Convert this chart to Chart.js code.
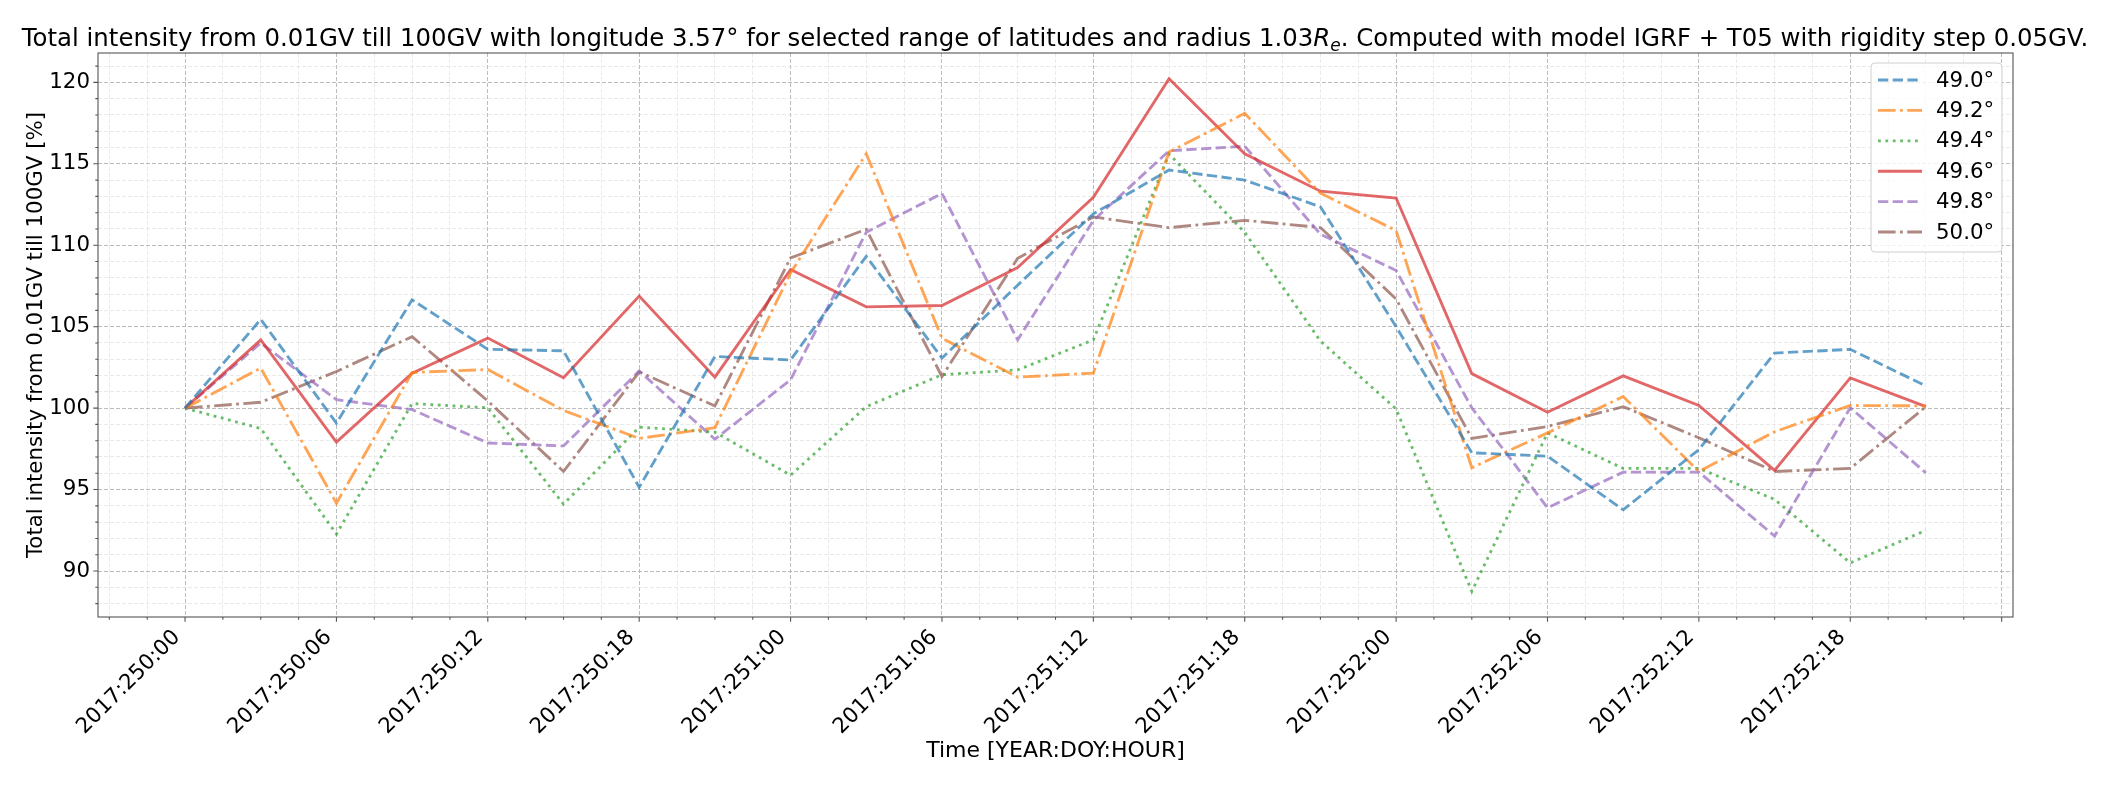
<!DOCTYPE html>
<html>
<head>
<meta charset="utf-8">
<script src="https://cdn.jsdelivr.net/npm/chart.js@4/dist/chart.umd.min.js"></script>
<style>
  html, body { margin: 0; padding: 0; background: #fff; }
  #wrap { width: 2110px; height: 785px; }
</style>
</head>
<body>
<div id="wrap"><canvas id="chart" width="2110" height="785"></canvas></div>
<script>
// Time steps (3 h) and the intensity for each latitude
const times = [
  '2017:250:00', '2017:250:03', '2017:250:06', '2017:250:09', '2017:250:12', '2017:250:15',
  '2017:250:18', '2017:250:21', '2017:251:00', '2017:251:03', '2017:251:06', '2017:251:09',
  '2017:251:12', '2017:251:15', '2017:251:18', '2017:251:21', '2017:252:00', '2017:252:03',
  '2017:252:06', '2017:252:09', '2017:252:12', '2017:252:15', '2017:252:18', '2017:252:21'
];
const latitudes = ['49.0°', '49.2°', '49.4°', '49.6°', '49.8°', '50.0°'];

const lat49_0 = [100, 105.45, 99.08, 106.65, 103.61, 103.52, 95.14, 103.17, 102.96, 109.32, 103.07, 107.55,
                 111.93, 114.62, 114.0, 112.36, 105.0, 97.26, 97.05, 93.76, 97.45, 103.38, 103.61, 101.36];
const lat49_2 = [100, 102.46, 94.16, 102.19, 102.37, 99.86, 98.14, 98.8, 108.3, 115.62, 104.29, 101.9,
                 102.15, 115.72, 118.1, 113.2, 110.9, 96.34, 98.48, 100.71, 96.11, 98.55, 100.16, 100.14];
const lat49_4 = [100, 98.75, 92.27, 100.28, 100.02, 94.11, 98.83, 98.53, 95.88, 100.09, 102.05, 102.35,
                 104.19, 115.6, 110.79, 104.12, 99.95, 88.75, 98.48, 96.3, 96.3, 94.4, 90.5, 92.5];
const lat49_6 = [100, 104.19, 97.91, 102.15, 104.3, 101.86, 106.88, 101.9, 108.51, 106.22, 106.3, 108.63,
                 112.95, 120.23, 115.62, 113.32, 112.9, 102.12, 99.75, 101.98, 100.16, 96.18, 101.86, 100.09];
const lat49_8 = [100, 104.0, 100.52, 99.91, 97.86, 97.68, 102.28, 98.09, 101.74, 110.8, 113.18, 104.19,
                 111.52, 115.8, 116.08, 110.68, 108.45, 100.02, 93.88, 96.07, 96.07, 92.15, 100.02, 96.02];
const lat50_0 = [100, 100.36, 102.25, 104.39, 100.44, 96.11, 102.23, 100.13, 109.22, 110.98, 101.94, 109.2,
                 111.74, 111.08, 111.53, 111.09, 106.7, 98.14, 98.87, 100.09, 98.18, 96.11, 96.3, 100.09];

const series = [lat49_0, lat49_2, lat49_4, lat49_6, lat49_8, lat50_0];

// tab10 colours at alpha 0.7, matplotlib dash patterns scaled for the line width
const lineColors = ['rgba(31,119,180,0.7)', 'rgba(255,127,14,0.7)', 'rgba(44,160,44,0.7)',
                    'rgba(214,39,40,0.7)', 'rgba(148,103,189,0.7)', 'rgba(140,86,75,0.7)'];
const DASHED = [10.3, 4.4], DASHDOT = [17.6, 4.4, 2.8, 4.4], DOTTED = [2.8, 4.6];
const lineDashes = [DASHED, DASHDOT, DOTTED, [], DASHED, DASHDOT];

const FONT = 'DejaVu Sans';
const FS = 21.33;

// axis limits with matplotlib's 5% margins
const allValues = [].concat(...series);
const yLo = Math.min(...allValues), yHi = Math.max(...allValues);
const yPad = (yHi - yLo) * 0.05;
const xPad = (times.length - 1) * 0.05;

const datasets = series.map((values, k) => ({
    label: latitudes[k],
    data: values.map((v, i) => ({ x: i, y: v })),
    borderColor: lineColors[k],
    borderDash: lineDashes[k],
    borderWidth: 2.85,
    pointRadius: 0,
    fill: false,
    tension: 0
}));

function buildTicks(scale, from, to, step, majorEvery) {
    const ticks = [];
    for (let v = from; v <= to + 1e-9; v += step) {
        const val = Math.round(v * 100) / 100;
        ticks.push({ value: val, major: Math.abs(val / majorEvery - Math.round(val / majorEvery)) < 1e-9 });
    }
    scale.ticks = ticks;
}

const gridColor = c => (c.tick && c.tick.major) ? 'rgba(176,176,176,0.85)' : 'rgba(220,220,220,0.6)';
const gridDash = c => c.tick ? [4, 2] : [];

// frame, tick marks, title with R_e and the inner legend
const decorations = {
    id: 'decorations',
    afterDraw(chart) {
        const { ctx, chartArea: a, scales } = chart;
        ctx.save();

        ctx.strokeStyle = '#555';
        ctx.lineWidth = 1.1;
        ctx.strokeRect(a.left, a.top, a.right - a.left, a.bottom - a.top);

        ctx.beginPath();
        scales.x.ticks.forEach(t => {
            const px = scales.x.getPixelForValue(t.value);
            ctx.moveTo(px, a.bottom);
            ctx.lineTo(px, a.bottom + (t.major ? 4.7 : 2.7));
        });
        scales.y.ticks.forEach(t => {
            const py = scales.y.getPixelForValue(t.value);
            ctx.moveTo(a.left, py);
            ctx.lineTo(a.left - (t.major ? 4.7 : 2.7), py);
        });
        ctx.stroke();

        // title
        const parts = [
            { text: 'Total intensity from 0.01GV till 100GV with longitude 3.57° for selected range of latitudes and radius 1.03', font: `24.4px "${FONT}"`, dy: 0 },
            { text: 'R', font: `italic 24.4px "${FONT}"`, dy: 0 },
            { text: 'e', font: `italic 17px "${FONT}"`, dy: 5 },
            { text: '. Computed with model IGRF + T05 with rigidity step 0.05GV.', font: `24.4px "${FONT}"`, dy: 0 }
        ];
        let total = 0;
        parts.forEach(p => { ctx.font = p.font; p.w = ctx.measureText(p.text).width; total += p.w; });
        let tx = chart.width / 2 - total / 2;
        ctx.fillStyle = '#000';
        ctx.textBaseline = 'alphabetic';
        ctx.textAlign = 'left';
        parts.forEach(p => { ctx.font = p.font; ctx.fillText(p.text, tx, 46 + p.dy); tx += p.w; });

        // legend box, upper right
        const box = { left: 1871, top: 63, right: 2002, bottom: 252 };
        ctx.beginPath();
        ctx.roundRect(box.left, box.top, box.right - box.left, box.bottom - box.top, 4);
        ctx.fillStyle = 'rgba(255,255,255,0.8)';
        ctx.fill();
        ctx.strokeStyle = '#d0d0d0';
        ctx.lineWidth = 1;
        ctx.stroke();

        ctx.font = `${FS}px "${FONT}"`;
        ctx.textBaseline = 'middle';
        chart.data.datasets.forEach((ds, k) => {
            const ly = 80 + k * 30.4;
            ctx.beginPath();
            ctx.setLineDash(ds.borderDash);
            ctx.strokeStyle = ds.borderColor;
            ctx.lineWidth = ds.borderWidth;
            ctx.moveTo(1878, ly);
            ctx.lineTo(1922, ly);
            ctx.stroke();
            ctx.setLineDash([]);
            ctx.fillStyle = '#000';
            ctx.fillText(ds.label, 1936, ly + 1);
        });

        ctx.restore();
    }
};

new Chart(document.getElementById('chart'), {
    type: 'line',
    data: { datasets },
    options: {
        responsive: false,
        animation: false,
        layout: { padding: { top: 53, right: 97, bottom: 0, left: 0 } },
        plugins: {
            legend: { display: false },
            title: { display: false },
            tooltip: { enabled: false }
        },
        scales: {
            x: {
                type: 'linear',
                min: -xPad,
                max: times.length - 1 + xPad,
                afterBuildTicks: s => buildTicks(s, -1, times.length, 0.5, 2),
                afterFit: s => { s.height = 168; },
                ticks: {
                    autoSkip: false,
                    maxRotation: 45,
                    minRotation: 45,
                    padding: 8,
                    labelOffset: -8,
                    color: '#000',
                    font: { family: FONT, size: FS },
                    callback: v => (v % 2 === 0 && v < times.length) ? times[v] : ''
                },
                grid: { color: gridColor, lineWidth: 1, drawTicks: false },
                border: { display: false, dash: gridDash },
                title: {
                    display: true,
                    text: 'Time [YEAR:DOY:HOUR]',
                    color: '#000',
                    font: { family: FONT, size: 22 },
                    padding: { top: 0, bottom: 21 }
                }
            },
            y: {
                min: yLo - yPad,
                max: yHi + yPad,
                afterBuildTicks: s => buildTicks(s, Math.ceil(yLo - yPad), Math.floor(yHi + yPad), 1, 5),
                afterFit: s => { s.width = 98; },
                ticks: {
                    autoSkip: false,
                    padding: 8,
                    color: '#000',
                    font: { family: FONT, size: FS },
                    callback: v => (v % 5 === 0) ? String(v) : ''
                },
                grid: { color: gridColor, lineWidth: 1, drawTicks: false },
                border: { display: false, dash: gridDash },
                title: {
                    display: true,
                    text: 'Total intensity from 0.01GV till 100GV [%]',
                    color: '#000',
                    font: { family: FONT, size: FS },
                    padding: { top: 24, bottom: 0 }
                }
            }
        }
    },
    plugins: [decorations]
});
</script>
</body>
</html>
